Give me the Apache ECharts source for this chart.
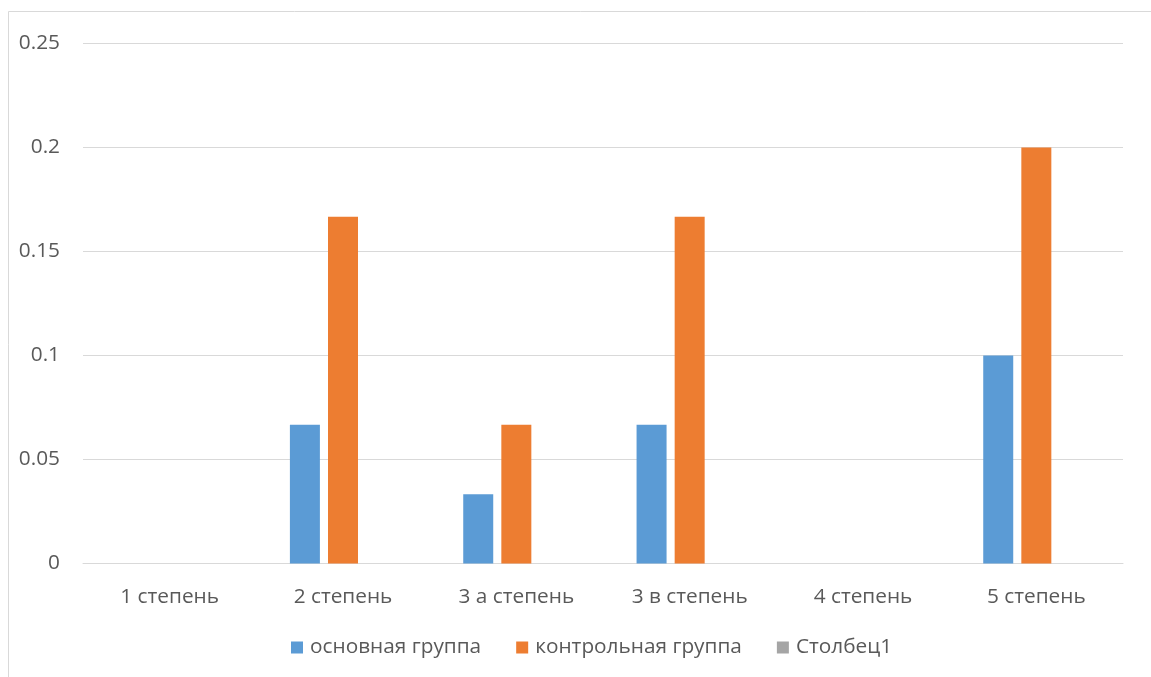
<!DOCTYPE html>
<html>
<head>
<meta charset="utf-8">
<script src="https://cdn.jsdelivr.net/npm/echarts@6/dist/echarts.min.js"></script>
<style>
  html, body { margin: 0; padding: 0; background: #ffffff; }
  #chart { width: 1151px; height: 677px; }
</style>
</head>
<body>
<div id="chart"></div>
<script>
// Categories and series values
const categories = ['1 степень', '2 степень', '3 а степень', '3 в степень', '4 степень', '5 степень'];
const mainGroup = [0, 0.0667, 0.0333, 0.0667, 0, 0.1];
const controlGroup = [0, 0.1667, 0.0667, 0.1667, 0, 0.2];
const column1 = [0, 0, 0, 0, 0, 0];
const seriesNames = ['основная группа', 'контрольная группа', 'Столбец1'];
const yTicks = { min: 0, max: 0.25, interval: 0.05 };

const FONT = 'Open Sans';
const TEXT = '#595959';
const SIZE = 20.8;

const chart = echarts.init(document.getElementById('chart'), null, { renderer: 'canvas' });

const makeBar = (name, data, color) => ({
  name: name,
  type: 'bar',
  data: data,
  barWidth: 30,
  barGap: '27%',
  itemStyle: { color: color },
  emphasis: { disabled: true }
});

chart.setOption({
  animation: false,
  backgroundColor: '#ffffff',
  textStyle: { fontFamily: FONT },
  graphic: [{
    type: 'rect',
    shape: { x: 8.5, y: 11.5, width: 1300, height: 800 },
    style: { fill: 'none', stroke: '#d9d9d9', lineWidth: 1 },
    silent: true,
    z: -10
  }],
  grid: { left: 83, right: 28, top: 43.5, bottom: 113.5, containLabel: false },
  legend: {
    data: seriesNames,
    top: 632,
    left: 286,
    icon: 'rect',
    itemWidth: 12,
    itemHeight: 12,
    itemGap: 35,
    textStyle: { color: TEXT, fontSize: SIZE, fontFamily: FONT, padding: [0, 0, 0, 2] }
  },
  xAxis: {
    type: 'category',
    data: categories,
    axisLine: { show: true, lineStyle: { color: '#d9d9d9', width: 1 } },
    axisTick: { show: false },
    axisLabel: { color: TEXT, fontSize: SIZE, fontFamily: FONT, margin: 23 }
  },
  yAxis: {
    type: 'value',
    min: yTicks.min,
    max: yTicks.max,
    interval: yTicks.interval,
    axisLine: { show: false },
    axisTick: { show: false },
    splitLine: { lineStyle: { color: '#d9d9d9', width: 1 } },
    axisLabel: { color: TEXT, fontSize: SIZE, fontFamily: FONT, margin: 23 }
  },
  series: [
    makeBar(seriesNames[0], mainGroup, '#5b9bd5'),
    makeBar(seriesNames[1], controlGroup, '#ed7d31'),
    makeBar(seriesNames[2], column1, '#a5a5a5')
  ]
});
</script>
</body>
</html>
